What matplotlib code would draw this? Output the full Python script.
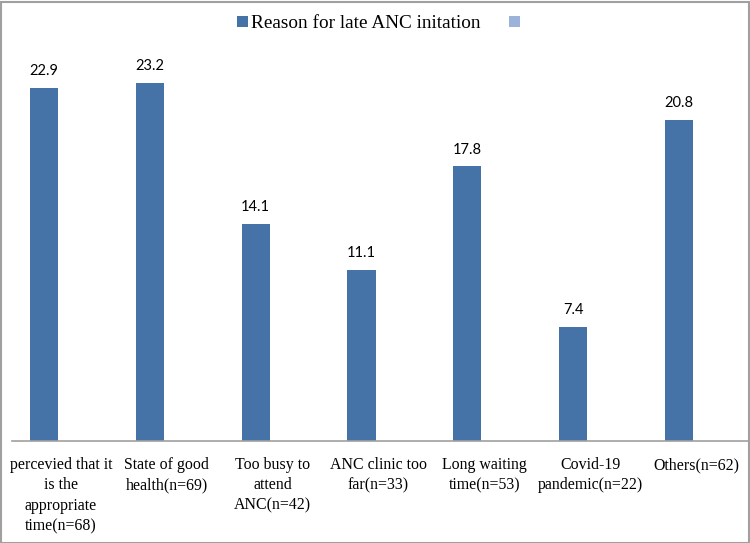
import matplotlib
matplotlib.use("Agg")
import matplotlib.pyplot as plt
import matplotlib.transforms as mtransforms
from matplotlib.patches import Patch, Rectangle

categories = [
    "percevied that it\nis the\nappropriate\ntime(n=68)",
    "State of good\nhealth(n=69)",
    "Too busy to\nattend\nANC(n=42)",
    "ANC clinic too\nfar(n=33)",
    "Long waiting\ntime(n=53)",
    "Covid-19\npandemic(n=22)",
    "Others(n=62)",
]
values = [22.9, 23.2, 14.1, 11.1, 17.8, 7.4, 20.8]
series_name = "Reason for late ANC initation"

bar_color = "#4572A7"
light_color = "#9BB3D9"
frame_color = "#A0A0A0"

fig = plt.figure(figsize=(7.5, 5.43), dpi=100)
W, H = 750, 543
ax = fig.add_axes([12 / W, 1 - 441 / H, (748 - 12) / W, (441 - 40) / H])

x = list(range(len(categories)))
bars = ax.bar(x, values, width=0.265, color=bar_color, zorder=2)
ax.bar_label(bars, labels=[f"{v:.1f}" for v in values], padding=7,
             fontsize=10.5, family="Lato", color="black")

ax.set_xlim(-0.302, 6.652)
ax.set_ylim(0, 26)
ax.set_yticks([])
ax.set_xticks(x)
ax.set_xticklabels(categories, family="Liberation Serif", fontsize=11.4,
                   linespacing=1.36)
ax.tick_params(axis="x", length=0, pad=11.5)
offset = mtransforms.ScaledTranslation(0.17, 0, fig.dpi_scale_trans)
for lbl in ax.get_xticklabels():
    lbl.set_transform(lbl.get_transform() + offset)
for s in ["left", "right", "top"]:
    ax.spines[s].set_visible(False)
ax.spines["bottom"].set_color(frame_color)
ax.spines["bottom"].set_linewidth(1.2)

handles = [Patch(facecolor=bar_color, edgecolor="none"),
           Patch(facecolor=light_color, edgecolor="none")]
fig.legend(handles, [series_name, ""], loc="center",
           bbox_to_anchor=(380 / W, 1 - 24 / H), ncol=2, frameon=False,
           prop={"family": "Liberation Serif", "size": 13.9},
           handlelength=0.55, handleheight=0.55, handletextpad=0.15,
           columnspacing=1.5)

fig.patches.append(Rectangle((0.5 / W, 0.5 / H), 748 / W, 541 / H,
                             transform=fig.transFigure, fill=False,
                             edgecolor=frame_color, linewidth=1.5))

fig.savefig("out.png", dpi=100)
